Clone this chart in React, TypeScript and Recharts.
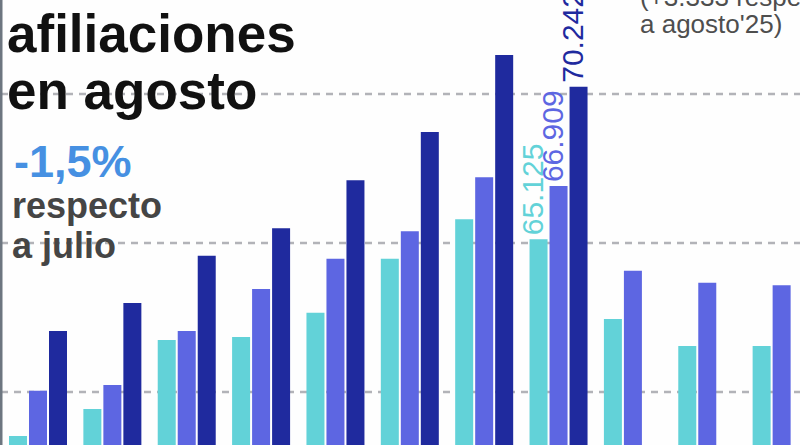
import React from 'react';
import { BarChart, Bar, XAxis, YAxis, CartesianGrid, LabelList } from 'recharts';

// Afiliaciones por mes (el gráfico original está recortado: diciembre queda fuera)
const months = ['ene', 'feb', 'mar', 'abr', 'may', 'jun', 'jul', 'ago', 'sep', 'oct', 'nov'];
const values2024 = [58523, 59430, 61745, 61846, 62661, 64473, 65795, 65125, 62450, 61544, 61544];
const values2025 = [60044, 60235, 62047, 63456, 64473, 65393, 67205, 66909, 64070, 63668, 63581];
const values2026 = [62047, 62987, 64574, 65493, 67104, 68725, 71310, 70242, null, null, null];
const gridTicks = [60000, 65000, 70000];
const labelledMonth = 'ago';

const COLORS = {
  y2024: '#62d2d8',
  y2025: '#5d66e2',
  y2026: '#1f2a9e',
  grid: '#b2b3b8',
  axis: '#6d7680',
  title: '#111111',
  accent: '#4690e2',
  sub: '#454545',
};

const FONT = '"Liberation Sans", Arial, sans-serif';

const data = months.map((m, i) => ({
  month: m,
  y2024: values2024[i],
  y2025: values2025[i],
  y2026: values2026[i],
}));

const fmt = (v: number) => String(v).replace(/\B(?=(\d{3})+(?!\d))/g, '.');

// vertical value label, only for the highlighted month
const makeLabel = (color: string) => (props: any) => {
  const { x, y, width, value, index } = props;
  if (months[index] !== labelledMonth || value == null) return null;
  const px = Number(x) + Number(width) / 2 + 4;
  const py = Number(y) - 4;
  return (
    <text
      x={px}
      y={py}
      transform={`rotate(-90, ${px}, ${py})`}
      textAnchor="start"
      fill={color}
      fontSize={30}
      fontFamily={FONT}
    >
      {fmt(Number(value))}
    </text>
  );
};

export default function App() {
  return (
    <div style={{ position: 'relative', width: 800, height: 445, overflow: 'hidden', background: '#fefefe' }}>
      <style>{`body{margin:0}`}</style>
      <div style={{ position: 'absolute', left: 0, top: 0 }}>
        <BarChart
          width={819}
          height={445}
          data={data}
          margin={{ top: 0, right: 0, bottom: 0, left: -2 }}
          barSize={18}
          barGap={2}
        >
          <CartesianGrid
            vertical={false}
            horizontalValues={gridTicks}
            stroke={COLORS.grid}
            strokeDasharray="7 6"
            strokeWidth={2.5}
          />
          <XAxis dataKey="month" hide />
          <YAxis
            width={3}
            domain={[58221, 73154]}
            allowDataOverflow
            ticks={gridTicks}
            interval={0}
            tick={() => <g />}
            tickLine={false}
            axisLine={{ stroke: COLORS.axis, strokeWidth: 3 }}
          />
          <Bar dataKey="y2024" fill={COLORS.y2024} isAnimationActive={false}>
            <LabelList dataKey="y2024" content={makeLabel(COLORS.y2024)} />
          </Bar>
          <Bar dataKey="y2025" fill={COLORS.y2025} isAnimationActive={false}>
            <LabelList dataKey="y2025" content={makeLabel(COLORS.y2025)} />
          </Bar>
          <Bar dataKey="y2026" fill={COLORS.y2026} isAnimationActive={false}>
            <LabelList dataKey="y2026" content={makeLabel(COLORS.y2026)} />
          </Bar>
        </BarChart>
      </div>

      <div style={{ position: 'absolute', left: 7, top: 5, fontFamily: FONT, fontWeight: 700, fontSize: 53, lineHeight: '57px', color: COLORS.title, whiteSpace: 'nowrap' }}>
        <div>afiliaciones</div>
        <div>en agosto</div>
      </div>
      <div style={{ position: 'absolute', left: 14, top: 139, fontFamily: FONT, fontWeight: 700, fontSize: 45, lineHeight: '46px', color: COLORS.accent }}>
        -1,5%
      </div>
      <div style={{ position: 'absolute', left: 12, top: 186, fontFamily: FONT, fontWeight: 700, fontSize: 36, lineHeight: '40px', color: COLORS.sub, whiteSpace: 'nowrap' }}>
        <div>respecto</div>
        <div>a julio</div>
      </div>
      <div style={{ position: 'absolute', left: 640, top: -16, fontFamily: FONT, fontSize: 26, lineHeight: '27px', color: '#4e4e4e', whiteSpace: 'nowrap' }}>
        <div>(+3.333 respecto</div>
        <div>a agosto'25)</div>
      </div>
    </div>
  );
}
